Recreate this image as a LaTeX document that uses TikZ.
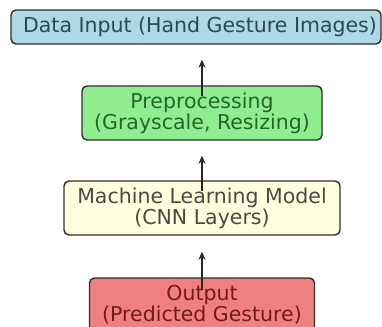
\documentclass[tikz,border=0pt]{standalone}
\usepackage{fontspec}
\setmainfont{DejaVu Sans}
\usetikzlibrary{arrows.meta}
\definecolor{bluefill}{HTML}{ADD8E6}
\definecolor{bluetext}{HTML}{2A4858}
\definecolor{greenfill}{HTML}{90EE90}
\definecolor{greentext}{HTML}{286428}
\definecolor{yellowfill}{HTML}{FFFFE0}
\definecolor{yellowtext}{HTML}{4A4A42}
\definecolor{redfill}{HTML}{F08080}
\definecolor{redtext}{HTML}{701C1C}
\definecolor{edge}{HTML}{2E2E2E}
\tikzset{
  stagebox/.style={draw=edge, line width=1.4pt, rounded corners=5pt,
    minimum height=54pt, align=center, inner sep=0pt,
    font=\fontsize{20.5}{21}\selectfont},
  flow/.style={line width=1.3pt, draw=black!85,
    -{Stealth[length=8pt,width=7pt]}}
}
\begin{document}
\begin{tikzpicture}[x=1pt,y=-1pt]
  \useasboundingbox (0,0) rectangle (382,326);
  \node[stagebox, fill=bluefill, minimum width=370pt,
        minimum height=34pt] (b1) at (196,27) {};
  \node[text=bluetext, font=\fontsize{20.5}{21}\selectfont, inner sep=0pt]
        (t1) at (200,27) {Data Input (Hand Gesture Images)};
  \node[stagebox, fill=greenfill, text=greentext, minimum width=240pt]
        (b2) at (202,113) {Preprocessing\\(Grayscale, Resizing)};
  \node[stagebox, fill=yellowfill, text=yellowtext, minimum width=276pt]
        (b3) at (202,208) {Machine Learning Model\\(CNN Layers)};
  \node[stagebox, fill=redfill, text=redtext, minimum width=225pt]
        (b4) at (202,305) {Output\\(Predicted Gesture)};
  \draw[flow] ([yshift=-11pt]b2.north) -- ([yshift=-15pt]b2.north |- b1.south);
  \draw[flow] ([yshift=-11pt]b3.north) -- ([yshift=-15pt]b2.south);
  \draw[flow] ([yshift=-12pt]b4.north) -- ([yshift=-16pt]b3.south);
\end{tikzpicture}
\end{document}
